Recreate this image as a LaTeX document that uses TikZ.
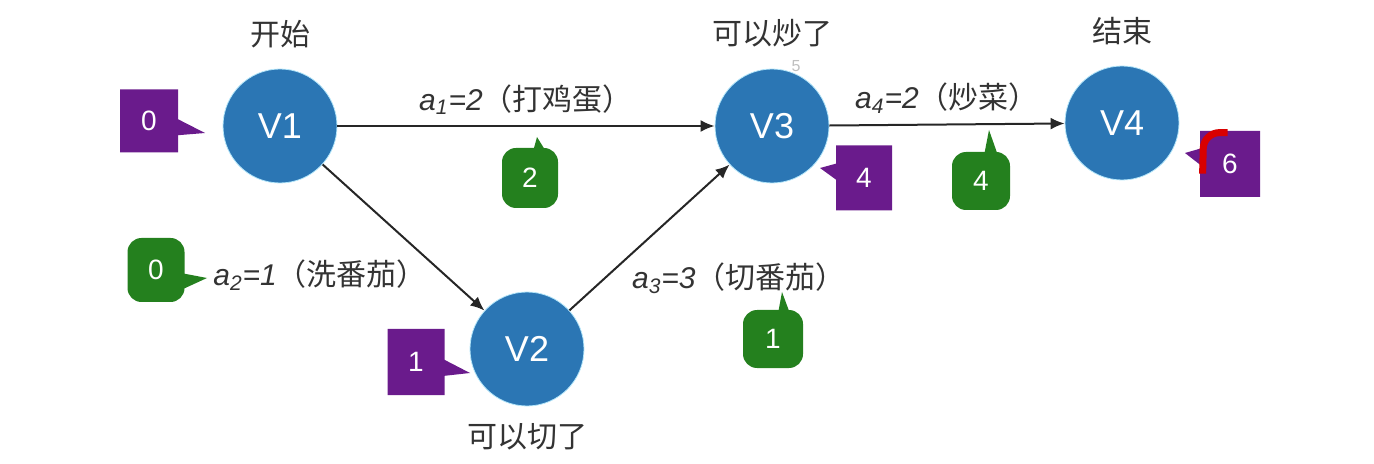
\documentclass[tikz,border=0pt]{standalone}
\usepackage{fontspec}
\setmainfont{Liberation Sans}
\newfontfamily\cjk{Noto Sans CJK SC}
\usetikzlibrary{shapes.callouts,arrows.meta}

\definecolor{vblue}{RGB}{43,118,180}
\definecolor{vpurple}{RGB}{106,27,140}
\definecolor{vgreen}{RGB}{36,128,30}

\newcommand{\actlabel}[3]{{\itshape a\textsubscript{#1}=#2}{\cjk （#3）}}

\begin{document}
\begin{tikzpicture}[
  x=.5pt, y=-.5pt,
  vertex/.style={
    circle, fill=vblue, draw=cyan!30, line width=.4pt, minimum size=57pt,
    text=white, font=\fontsize{18}{18}\selectfont
  },
  tlabel/.style={font=\cjk\fontsize{15}{15}\selectfont, text=black!80},
  act/.style={-{Latex[length=7pt,width=6pt]}, line width=1pt, black!85},
  elabel/.style={font=\fontsize{15}{15}\selectfont, text=black!80, inner sep=2pt},
  vebox/.style={
    rectangle callout, fill=vpurple, text=white, callout pointer width=8pt,
    font=\fontsize{14}{14}\selectfont, inner sep=0pt
  },
  eabox/.style={
    rectangle, fill=vgreen, text=white, rounded corners=7pt,
    font=\fontsize{14}{14}\selectfont, inner sep=0pt
  }
]

  \useasboundingbox (0,0) rectangle (1374,464);

  \node[vertex, label={[tlabel, label distance=7pt]above:{开始}}] (v1) at (280,126) {V1};
  \node[vertex, label={[tlabel, label distance=5pt]below:{可以切了}}] (v2) at (527,349) {V2};
  \node[vertex, label={[tlabel, label distance=7pt]above:{可以炒了}}] (v3) at (772,126) {V3};
  \node[vertex, label={[tlabel, label distance=7pt]above:{结束}}] (v4) at (1122,123) {V4};

  \draw[act] (v1) -- node[elabel, above=3pt] {\actlabel{1}{2}{打鸡蛋}} (v3);
  \draw[act] (v1) -- node[elabel, pos=.62, anchor=north east, xshift=4.5pt] {\actlabel{2}{1}{洗番茄}} (v2);
  \draw[act] (v2) -- node[elabel, pos=.36, anchor=north west] {\actlabel{3}{3}{切番茄}} (v3);
  \draw[act] (v3) -- node[elabel, above=3pt] {\actlabel{4}{2}{炒菜}} (v4);

  % earliest time of each event
  \foreach \n/\x/\y/\w/\h/\px/\py/\t in {
    1/149/121/58/63/205/133/0,
    2/416/362/57/66/470/373/1,
    3/864/178/56/65/820/168/4,
    4/1230/164/60/66/1185/153/6}
  \node[vebox, minimum width=\w*.5pt, minimum height=\h*.5pt,
    callout absolute pointer={(\px,\py)}] (ve-\n) at (\x,\y) {\t};

  % earliest start of each activity
  \foreach \n/\x/\y/\w/\h/\t in {
    1/530/178/56/60/2,
    2/156/270/57/64/0,
    3/773/339/60/58/1,
    4/981/181/58/58/4}
  \node[eabox, minimum width=\w*.5pt, minimum height=\h*.5pt] (ea-\n) at (\x,\y) {\t};
  \foreach \n/\s/\ax/\ay/\bx/\by/\px/\py in {
    1/north/3/4/16/4/537/137,
    2/east/-4/3/-4/20/207/278,
    3/north/5/4/17/4/782/292,
    4/north/3/4/17/4/989/130}
  \fill[vgreen] ([shift={(\ax,\ay)}]ea-\n.\s) -- (\px,\py) -- ([shift={(\bx,\by)}]ea-\n.\s) -- cycle;

  \node[font=\fontsize{8}{8}\selectfont, text=black!25] (mark) at (796,66) {5};
  \draw[red!85!black, line width=3.5pt, rounded corners=8pt]
    ([shift={(3,43)}]ve-4.north west) -- ([shift={(4,2)}]ve-4.north west) -- ([shift={(28,2)}]ve-4.north west);

\end{tikzpicture}
\end{document}
